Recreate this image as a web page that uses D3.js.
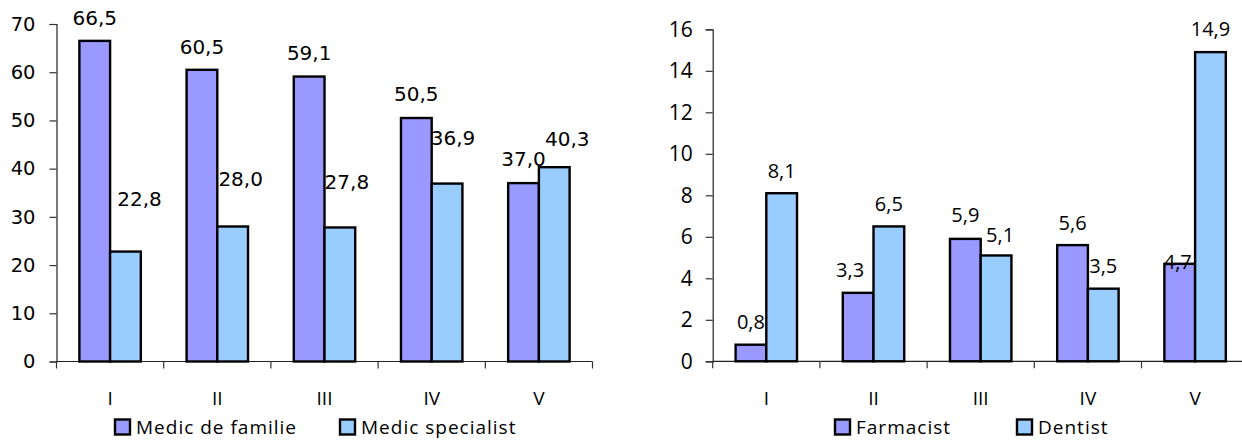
<!DOCTYPE html>
<html>
<head>
<meta charset="utf-8">
<script src="https://cdn.jsdelivr.net/npm/d3@7/dist/d3.min.js"></script>
<style>
  html, body { margin: 0; padding: 0; background: #fff; }
  svg { display: block; }
</style>
</head>
<body>
<svg id="chart" width="1242" height="440"></svg>
<script>
// Categories shared by both panels
const categories = ["I", "II", "III", "IV", "V"];

// Left panel: doctors
const medicFamilie = [66.5, 60.5, 59.1, 50.5, 37.0];
const medicSpecialist = [22.8, 28.0, 27.8, 36.9, 40.3];
const leftTicks = [0, 10, 20, 30, 40, 50, 60, 70];
const leftSeries = ["Medic de familie", "Medic specialist"];

// Right panel: pharmacists and dentists
const farmacist = [0.8, 3.3, 5.9, 5.6, 4.7];
const dentist = [8.1, 6.5, 5.1, 3.5, 14.9];
const rightTicks = [0, 2, 4, 6, 8, 10, 12, 14, 16];
const rightSeries = ["Farmacist", "Dentist"];

// Manual nudges for value labels (pixels), as placed in the original layout
const leftLabelShift = [
  [[0, -23], [0, -23], [0, -24], [0, -24], [0, -24]],
  [[14, -53], [8, -48], [7, -45], [6, -46], [13, -28]]
];
const rightLabelShift = [
  [[0, -23], [-8, -23], [0, -24], [0, -22], [-2, -2]],
  [[0, -22], [0, -22], [4, -20], [0, -23], [0, -23]]
];

const colors = ["#9999FF", "#99CCFF"];
const fmt = v => d3.format(".1f")(v).replace(".", ",");

const svg = d3.select("#chart");

function panel(opt) {
  const g = svg.append("g");
  const x0 = d3.scaleBand().domain(categories).range(opt.xRange).paddingInner(0).paddingOuter(0);
  const x1 = d3.scaleBand().domain([0, 1]).range([0, x0.bandwidth()]).paddingInner(0).paddingOuter(0.745);
  const y = d3.scaleLinear().domain(opt.yDomain).range(opt.yRange);

  // y axis
  const yAxis = d3.axisLeft(y).tickValues(opt.ticks).tickSize(7).tickPadding(opt.tickPad).tickFormat(d3.format("d"));
  const ya = g.append("g").attr("transform", `translate(${opt.xRange[0]},0)`).call(yAxis);
  ya.select(".domain").attr("stroke", "#222").attr("stroke-width", 1.2);
  ya.selectAll(".tick line").attr("stroke", "#333").attr("stroke-width", 1.2);
  ya.selectAll(".tick text").attr("fill", "#000")
    .style("font-family", opt.tickFont).style("font-size", opt.tickSize + "px");

  // x axis: ticks at band boundaries, labels at band centres
  const xa = g.append("g").attr("transform", `translate(0,${y(0)})`);
  xa.append("line").attr("x1", opt.xRange[0]).attr("x2", opt.xRange[1])
    .attr("stroke", "#222").attr("stroke-width", 1.2);
  const bounds = categories.map(c => x0(c)).concat([opt.xRange[1]]);
  xa.selectAll("line.tk").data(bounds).enter().append("line").attr("class", "tk")
    .attr("x1", d => d).attr("x2", d => d).attr("y1", 0).attr("y2", 7)
    .attr("stroke", "#333").attr("stroke-width", 1.2);
  xa.selectAll("text").data(categories).enter().append("text")
    .attr("x", d => x0(d) + x0.bandwidth() / 2).attr("y", opt.catY - y(0))
    .attr("dy", "0.35em").attr("text-anchor", "middle")
    .style("font-family", opt.catFont).style("font-size", opt.catSize + "px").text(d => d);

  // bars
  opt.series.forEach((vals, si) => {
    g.append("g").selectAll("rect").data(vals).enter().append("rect")
      .attr("x", (d, i) => x0(categories[i]) + x1(si))
      .attr("y", d => y(d))
      .attr("width", x1.bandwidth())
      .attr("height", d => y(0) - y(d))
      .attr("fill", colors[si]).attr("stroke", "#000").attr("stroke-width", 2.4);
  });

  // value labels
  opt.series.forEach((vals, si) => {
    g.append("g").selectAll("text").data(vals).enter().append("text")
      .attr("x", (d, i) => x0(categories[i]) + x1(si) + x1.bandwidth() / 2 + opt.shift[si][i][0])
      .attr("y", (d, i) => y(d) + opt.shift[si][i][1])
      .attr("dy", "0.35em").attr("text-anchor", "middle")
      .style("font-family", opt.valFont).style("font-size", opt.valSize + "px")
      .text(d => fmt(d));
  });

  // legend
  const lg = g.append("g");
  opt.legend.forEach((name, i) => {
    const lx = opt.legendX[i];
    lg.append("rect").attr("x", lx).attr("y", opt.legendY - opt.legendBox / 2)
      .attr("width", opt.legendBox).attr("height", opt.legendBox)
      .attr("fill", colors[i]).attr("stroke", "#000").attr("stroke-width", 2.4);
    lg.append("text").attr("x", lx + opt.legendBox + 6).attr("y", opt.legendY)
      .attr("dy", "0.35em")
      .style("font-family", opt.legendFont).style("font-size", opt.legendSize + "px")
      .style("letter-spacing", opt.legendSpacing + "px")
      .text(name);
  });
}

panel({
  xRange: [56.5, 592.5], yDomain: [0, 70], yRange: [361.5, 24], ticks: leftTicks,
  tickPad: 14, tickFont: "DejaVu Sans", tickSize: 19.5,
  catFont: "Open Sans", catSize: 19, catY: 398,
  valFont: "DejaVu Sans", valSize: 20,
  series: [medicFamilie, medicSpecialist], shift: leftLabelShift,
  legend: leftSeries, legendX: [115, 340], legendY: 427, legendBox: 15,
  legendFont: "Open Sans", legendSize: 19, legendSpacing: 1
});

panel({
  xRange: [712.7, 1248.7], yDomain: [0, 16], yRange: [361.3, 29.3], ticks: rightTicks,
  tickPad: 13, tickFont: "Open Sans", tickSize: 21,
  catFont: "Open Sans", catSize: 19, catY: 398,
  valFont: "Open Sans", valSize: 20,
  series: [farmacist, dentist], shift: rightLabelShift,
  legend: rightSeries, legendX: [835, 1017], legendY: 427, legendBox: 15,
  legendFont: "Open Sans", legendSize: 19, legendSpacing: 1
});
</script>
</body>
</html>
